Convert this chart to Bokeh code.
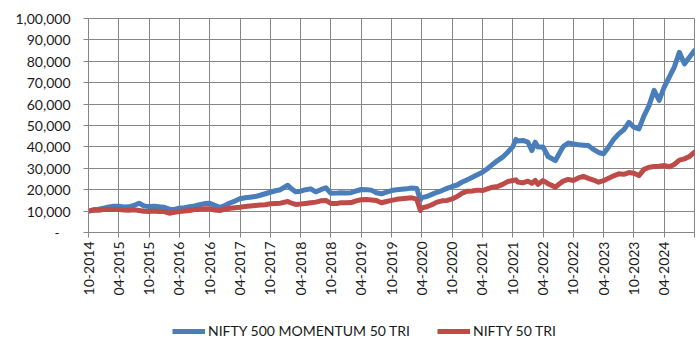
from datetime import date
from bokeh.plotting import figure
from bokeh.models import Range1d, FixedTicker, Legend, LegendItem
from bokeh.layouts import column
from bokeh.embed import file_html
from bokeh.resources import INLINE
import math

# ---------------- data ----------------
dates = [
    "2014-10-01", "2014-11-01", "2014-12-01", "2015-01-01", "2015-02-01", "2015-03-01",
    "2015-04-01", "2015-05-01", "2015-06-01", "2015-07-01", "2015-08-01", "2015-09-01",
    "2015-10-01", "2015-11-01", "2015-12-01", "2016-01-01", "2016-02-01", "2016-03-01",
    "2016-04-01", "2016-05-01", "2016-06-01", "2016-07-01", "2016-08-01", "2016-09-01",
    "2016-10-01", "2016-11-01", "2016-12-01", "2017-01-01", "2017-02-01", "2017-03-01",
    "2017-04-01", "2017-05-01", "2017-06-01", "2017-07-01", "2017-08-01", "2017-09-01",
    "2017-10-01", "2017-11-01", "2017-12-01", "2018-01-15", "2018-02-01", "2018-03-01",
    "2018-04-01", "2018-05-01", "2018-06-01", "2018-07-01", "2018-08-01", "2018-09-01",
    "2018-10-01", "2018-11-01", "2018-12-01", "2019-01-01", "2019-02-01", "2019-03-01",
    "2019-04-01", "2019-05-01", "2019-06-01", "2019-07-01", "2019-08-01", "2019-09-01",
    "2019-10-01", "2019-11-01", "2019-12-01", "2020-01-01", "2020-02-01", "2020-03-01",
    "2020-03-23", "2020-04-01", "2020-05-01", "2020-06-01", "2020-07-01", "2020-08-01",
    "2020-09-01", "2020-10-01", "2020-11-01", "2020-12-01", "2021-01-01", "2021-02-01",
    "2021-03-01", "2021-04-01", "2021-05-01", "2021-06-01", "2021-07-01", "2021-08-01",
    "2021-09-01", "2021-10-01", "2021-10-20", "2021-11-01", "2021-12-01", "2022-01-01",
    "2022-01-25", "2022-02-15", "2022-03-01", "2022-04-01", "2022-05-01", "2022-06-15",
    "2022-07-01", "2022-08-01", "2022-09-01", "2022-10-01", "2022-11-01", "2022-12-01",
    "2023-01-01", "2023-02-01", "2023-03-01", "2023-04-01", "2023-05-01", "2023-06-01",
    "2023-07-01", "2023-08-01", "2023-09-01", "2023-10-01", "2023-11-01", "2023-12-01",
    "2024-01-01", "2024-02-01", "2024-03-01", "2024-04-01", "2024-05-01", "2024-06-01",
    "2024-07-01", "2024-08-01", "2024-09-01", "2024-10-01",
]

momentum = [
    10000, 10600, 10900, 11400, 11900, 12300,
    12300, 11900, 12000, 12600, 13700, 12400,
    12100, 12300, 12000, 11800, 10900, 10800,
    11400, 11600, 12000, 12400, 13000, 13500,
    13700, 12700, 11800, 12600, 13800, 14700,
    15800, 16200, 16500, 16800, 17400, 18100,
    18800, 19500, 20000, 22100, 20800, 19000,
    19300, 20000, 20400, 19000, 20000, 20900,
    18300, 18400, 18600, 18500, 18600, 19400,
    20100, 20000, 19800, 18600, 18100, 18900,
    19600, 20000, 20200, 20400, 20800, 20600,
    15200, 16300, 16800, 17800, 18800, 19600,
    20600, 21500, 22200, 23600, 24600, 25800,
    27000, 28200, 29800, 31800, 33600, 35200,
    37500, 40000, 43500, 42800, 43000, 42200,
    38300, 42200, 40000, 40000, 35500, 33600,
    36000, 40200, 41800, 41400, 41000, 40800,
    40600, 38800, 37400, 36800, 40000, 43500,
    46100, 48000, 51500, 49200, 48400, 54500,
    59300, 66400, 61700, 67900, 72600, 77300,
    84200, 78800, 81900, 85000,
]

nifty50 = [
    10000, 10500, 10400, 10700, 10900, 10800,
    10700, 10500, 10400, 10600, 10300, 9900,
    9800, 10000, 9800, 9800, 9000, 9400,
    9800, 10000, 10300, 10700, 10900, 11100,
    11100, 10500, 10300, 10900, 11300, 11600,
    11800, 12200, 12400, 12600, 12800, 13000,
    13400, 13600, 13700, 14500, 13900, 13100,
    13300, 13600, 13900, 14200, 14800, 15000,
    13600, 13500, 13900, 13900, 14000, 14800,
    15300, 15400, 15200, 15000, 13900, 14500,
    15000, 15500, 15800, 16000, 16200, 15600,
    10300, 11500, 12000, 13000, 14200, 14800,
    15000, 15700, 16800, 18400, 19300, 19400,
    19800, 19600, 20400, 21200, 21500, 22500,
    23800, 24300, 24600, 23600, 23200, 24000,
    23000, 24300, 22500, 24300, 22800, 21200,
    22300, 24000, 24800, 24300, 25500, 26200,
    25300, 24500, 23500, 24200, 25400, 26500,
    27400, 27200, 28000, 27700, 26600, 29500,
    30500, 30800, 31000, 31300, 30700, 31800,
    33800, 34400, 35500, 37500,
]

series_names = ["NIFTY 500 MOMENTUM 50 TRI", "NIFTY 50 TRI"]

x_tick_labels = [
    "10-2014", "04-2015", "10-2015", "04-2016", "10-2016", "04-2017", "10-2017",
    "04-2018", "10-2018", "04-2019", "10-2019", "04-2020", "10-2020", "04-2021",
    "10-2021", "04-2022", "10-2022", "04-2023", "10-2023", "04-2024", "",
]
y_ticks = [0, 10000, 20000, 30000, 40000, 50000, 60000, 70000, 80000, 90000, 100000]
y_tick_labels = ["-\u00a0\u00a0\u00a0", "10,000", "20,000", "30,000", "40,000", "50,000",
                 "60,000", "70,000", "80,000", "90,000", "1,00,000"]

# ---------------- helpers ----------------
START = date(2014, 10, 1)


def months_since_start(s):
    y, m, d = (int(v) for v in s.split("-"))
    return (y - START.year) * 12 + (m - START.month) + (d - 1) / 30.4


xs = [months_since_start(s) for s in dates]
x_ticks = [6 * i for i in range(len(x_tick_labels))]

FONT = "Lato"
TEXT = "#1a1a1a"
GRID = "#868686"
BLUE = "#4A7EBB"
RED = "#BE4B48"
LW = 5

MAIN_H = 310

p = figure(width=700, height=MAIN_H, output_backend="svg", toolbar_location=None,
           x_range=Range1d(0, 120), y_range=Range1d(0, 100000),
           min_border_left=88, min_border_right=6, min_border_top=18,
           min_border_bottom=MAIN_H - 232)
p.background_fill_color = "white"
p.border_fill_color = "white"
p.outline_line_color = GRID
p.outline_line_width = 1

p.line(xs, momentum, line_color=BLUE, line_width=LW, line_join="round", line_cap="round")
p.line(xs, nifty50, line_color=RED, line_width=LW, line_join="round", line_cap="round")

# x axis
p.xaxis.ticker = FixedTicker(ticks=x_ticks)
p.xaxis.major_label_overrides = {t: lab for t, lab in zip(x_ticks, x_tick_labels)}
p.xaxis.major_label_orientation = math.pi / 2
p.xaxis.minor_tick_line_color = None
p.xaxis.major_tick_out = 5
p.xaxis.major_tick_in = 0
p.xaxis.major_tick_line_color = GRID
p.xaxis.axis_line_color = GRID
p.xaxis.major_label_text_font = FONT
p.xaxis.major_label_text_font_size = "14px"
p.xaxis.major_label_text_color = TEXT
p.xaxis.major_label_standoff = 4

# y axis
p.yaxis.ticker = FixedTicker(ticks=y_ticks)
p.yaxis.major_label_overrides = {t: lab for t, lab in zip(y_ticks, y_tick_labels)}
p.yaxis.minor_tick_line_color = None
p.yaxis.major_tick_out = 5
p.yaxis.major_tick_in = 0
p.yaxis.major_tick_line_color = GRID
p.yaxis.axis_line_color = GRID
p.yaxis.major_label_text_font = FONT
p.yaxis.major_label_text_font_size = "14px"
p.yaxis.major_label_text_color = TEXT
p.yaxis.major_label_standoff = 13

p.xgrid.ticker = FixedTicker(ticks=x_ticks)
p.ygrid.ticker = FixedTicker(ticks=y_ticks)
p.grid.grid_line_color = GRID
p.grid.grid_line_width = 1

# ---------------- legend strip (same series, drawn outside its view) ----------------
LEG_H = 353 - MAIN_H
lg = figure(width=700, height=LEG_H, output_backend="svg", toolbar_location=None,
            x_range=Range1d(0, 120), y_range=Range1d(0, 1),
            min_border_left=0, min_border_right=0, min_border_top=0, min_border_bottom=0)
lg.axis.visible = False
lg.grid.visible = False
lg.outline_line_color = None
lg.background_fill_color = "white"
lg.border_fill_color = "white"
k1 = lg.line(xs, momentum, line_color=BLUE, line_width=LW)
k2 = lg.line(xs, nifty50, line_color=RED, line_width=LW)

# the column aligns this strip's frame with the chart's frame (left edge at x=88)
legend = Legend(items=[LegendItem(label=series_names[0], renderers=[k1]),
                       LegendItem(label=series_names[1], renderers=[k2])],
                orientation="horizontal", location=(84, LEG_H - 21 - 8),
                glyph_width=33, glyph_height=16, label_height=16, label_standoff=3, spacing=27,
                padding=0, margin=0, border_line_color=None, background_fill_alpha=0,
                label_text_font=FONT, label_text_font_size="14px", label_text_color=TEXT)
lg.add_layout(legend, "center")

layout = column(p, lg, spacing=0)
open("out.html", "w").write(file_html(layout, INLINE))
